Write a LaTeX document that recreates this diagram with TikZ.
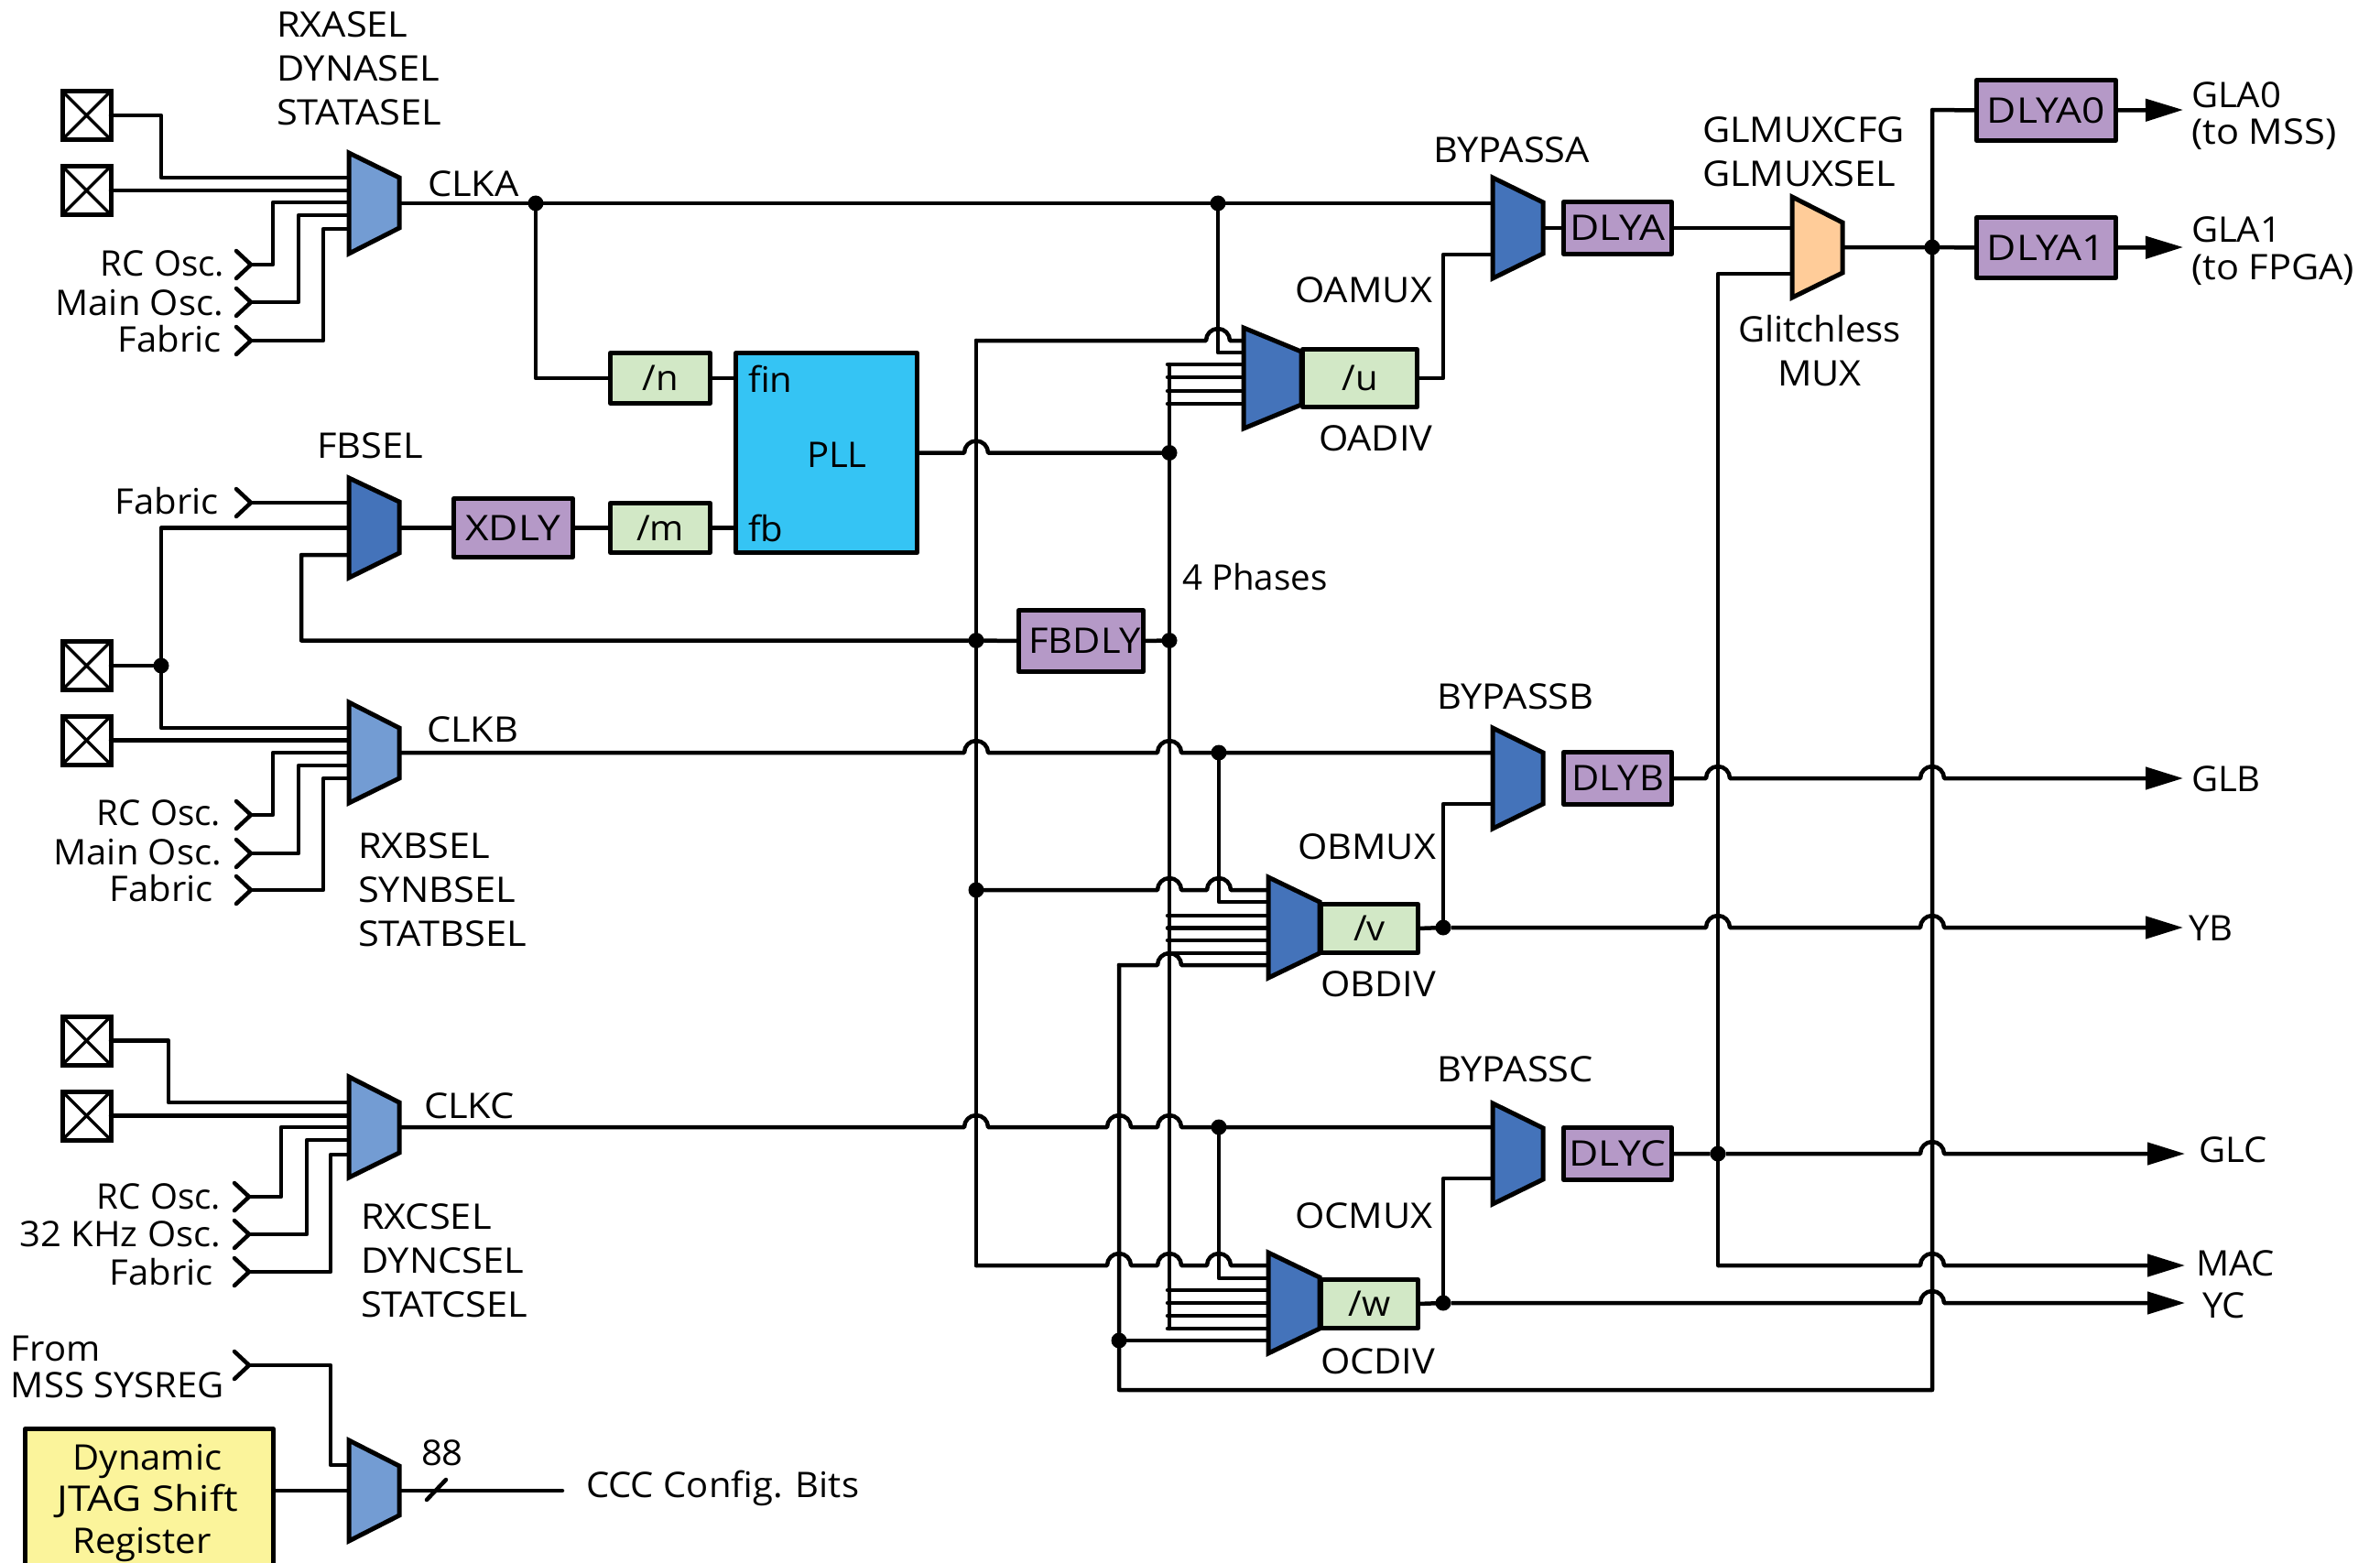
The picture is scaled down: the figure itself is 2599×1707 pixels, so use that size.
\documentclass[tikz,border=0pt]{standalone}
\usepackage{fontspec}
\setmainfont[FakeStretch=1.04]{Open Sans}
\newfontfamily\capsf[FakeStretch=1.08]{Open Sans}
\newfontfamily\boxf[FakeStretch=1.15]{Open Sans}
\newfontfamily\plainf{Open Sans}
\newcommand{\C}[1]{{\capsf #1}}
\newcommand{\B}[1]{{\boxf #1}}
\newcommand{\Pl}[1]{{\plainf #1}}
\usetikzlibrary{arrows.meta,backgrounds}
\definecolor{muxlight}{HTML}{739CD3}
\definecolor{muxdark}{HTML}{4473BA}
\definecolor{muxpeach}{HTML}{FFCC99}
\definecolor{dlypurple}{HTML}{B599C7}
\definecolor{divgreen}{HTML}{D2E8C6}
\definecolor{pllcyan}{HTML}{35C4F4}
\definecolor{regyellow}{HTML}{FBF49B}
\tikzset{
  wire/.style={draw=black,line width=4.5pt,line join=round,line cap=round},
  arrowwire/.style={wire,line cap=butt,-{Triangle[length=41pt,width=24pt]}},
  lbl/.style={inner sep=0pt,outer sep=0pt,yshift=-1.5pt,font=\fontsize{38.5pt}{46pt}\selectfont,anchor=base west},
  lblr/.style={lbl,anchor=base east},
  lblc/.style={lbl,anchor=base},
  dot/.style={circle,fill=black,inner sep=0pt,minimum size=17pt,outer sep=0pt},
  boxnode/.style={draw=black,line width=5pt,rectangle,inner sep=0pt,outer sep=0pt,line join=round,
     font=\fontsize{38.5pt}{46pt}\selectfont},
  padnode/.style={draw=black,line width=5pt,rectangle,inner sep=0pt,outer sep=0pt,minimum size=53pt,
     path picture={\draw[line width=3.5pt] (path picture bounding box.north west) -- (path picture bounding box.south east)
       (path picture bounding box.north east) -- (path picture bounding box.south west);}},
  muxanchor/.style={inner sep=0pt,outer sep=0pt,rectangle},
}
% name, style, x1, y1, x2, y2, text
\newcommand{\blk}[7]{\node[boxnode,#2,minimum width={(#5-#3-5)*1pt},minimum height={(#6-#4-5)*1pt}] (#1) at ({(#3+#5)/2},{(#4+#6)/2}) {#7};}
% name, colour, x1, x2, ytopL, ybotL, ytopR, ybotR
\newcommand{\muxblk}[8]{%
  \filldraw[fill=#2,draw=black,line width=5pt,line join=miter,miter limit=10] (#3,#5) -- (#4,#7) -- (#4,#8) -- (#3,#6) -- cycle;
  \node[muxanchor,minimum width={(#4-#3)*1pt},minimum height={(#6-#5)*1pt}] (#1) at ({(#3+#4)/2},{(#5+#6)/2}) {};}
% name, x, y : input chevron with its tip as a coordinate
\newcommand{\chev}[3]{\coordinate (#1) at (#2,#3);
  \draw[wire] ({#2-16},{#3-15}) -- (#1) -- ({#2-16},{#3+15});}
\newcommand{\hop}[2]{-- ({#1-13},#2) arc[start angle=180,end angle=0,radius=13pt] }
\begin{document}
\begin{tikzpicture}[x=1pt,y=-1pt]
\useasboundingbox (0,0) rectangle (2599,1707);
\clip (0,0) rectangle (2599,1707);

% ---------- pads
\node[padnode] (pa1) at (94.5,126) {};
\node[padnode] (pa2) at (94.5,208) {};
\node[padnode] (pb1) at (94.5,727) {};
\node[padnode] (pb2) at (94.5,808.5) {};
\node[padnode] (pc1) at (94.5,1136.5) {};
\node[padnode] (pc2) at (94.5,1218.5) {};

% ---------- muxes
\muxblk{muxA}{muxlight}{381}{436}{167}{277}{194}{249}
\muxblk{muxFB}{muxdark}{381}{436}{522}{631}{548}{604}
\muxblk{muxB}{muxlight}{381}{436}{767}{877}{795}{850}
\muxblk{muxC}{muxlight}{381}{436}{1176}{1286}{1204}{1259}
\muxblk{muxD}{muxlight}{381}{436}{1573}{1683}{1601}{1655}
\muxblk{muxOA}{muxdark}{1358}{1421}{358}{468}{384}{442}
\muxblk{muxOB}{muxdark}{1385}{1441}{958}{1068}{985}{1041}
\muxblk{muxOC}{muxdark}{1385}{1441}{1368}{1478}{1395}{1451}
\muxblk{muxBA}{muxdark}{1630}{1685}{194}{304}{221}{277}
\muxblk{muxBB}{muxdark}{1630}{1685}{795}{905}{822}{878}
\muxblk{muxBC}{muxdark}{1630}{1685}{1205}{1315}{1232}{1288}
\muxblk{muxG}{muxpeach}{1957}{2012}{215}{325}{243}{298}

% ---------- boxes
\blk{n}{fill=divgreen}{664}{383}{778}{443}{/n\hspace{8pt}}
\blk{m}{fill=divgreen}{664}{547}{778}{606}{/m\hspace{8pt}}
\blk{xdly}{fill=dlypurple}{493}{542}{628}{611}{\B{XDLY}}
\blk{pll}{fill=pllcyan}{801}{383}{1004}{606}{}
\blk{fbdly}{fill=dlypurple}{1110}{664}{1251}{736}{\hspace{8pt}\C{FBDLY}}
\blk{u}{fill=divgreen}{1420}{379}{1550}{447}{/u\hspace{8pt}}
\blk{v}{fill=divgreen}{1440}{985}{1551}{1043}{/v\hspace{8pt}}
\blk{w}{fill=divgreen}{1440}{1395}{1551}{1453}{/w\hspace{8pt}}
\blk{dlya}{fill=dlypurple}{1705}{218}{1828}{280}{\B{DLYA}}
\blk{dlyb}{fill=dlypurple}{1705}{819}{1828}{881}{\C{DLYB}}
\blk{dlyc}{fill=dlypurple}{1705}{1229}{1828}{1291}{\B{DLYC}}
\blk{dlyaz}{fill=dlypurple}{2156}{85}{2313}{156}{\B{DLYA0}}
\blk{dlyao}{fill=dlypurple}{2156}{235}{2313}{306}{\B{DLYA1}}
\blk{jtag}{fill=regyellow}{25}{1558}{301}{1740}{}

% ---------- dots
\node[dot] (dA) at (585,222) {};
\node[dot] (dOA) at (1330,222) {};
\node[dot] (dPh) at (1277,494.5) {};
\node[dot] (dFBl) at (1066,699.5) {};
\node[dot] (dFBr) at (1277,699.5) {};
\node[dot] (dP3) at (176,727) {};
\node[dot] (dVb) at (1066,972) {};
\node[dot] (dOB) at (1331,822) {};
\node[dot] (dOC) at (1331,1231) {};
\node[dot] (dV) at (1576,1013) {};
\node[dot] (dW) at (1576,1423) {};
\node[dot] (dY) at (1222,1464) {};
\node[dot] (dC) at (1876,1260) {};
\node[dot] (dG) at (2110,270) {};

% ---------- chevrons
\chev{tRa}{274}{289}
\chev{tMa}{274}{330}
\chev{tFa}{274}{372}
\chev{tFf}{274}{549}
\chev{tRb}{274}{890}
\chev{tMb}{274}{932}
\chev{tFb}{274}{972}
\chev{tRc}{272}{1307}
\chev{tMc}{272}{1348}
\chev{tFc}{272}{1389}
\chev{tS}{272}{1491}

% ---------- free ends
\coordinate (cCfg) at (614,1628);
\coordinate (tGLA0) at (2384,120);
\coordinate (tGLA1) at (2384,270);
\coordinate (tGLB) at (2384,850);
\coordinate (tYB) at (2384,1013);
\coordinate (tGLC) at (2386,1260);
\coordinate (tMAC) at (2386,1382);
\coordinate (tYC) at (2386,1423);

\begin{scope}[on background layer]
% CLKA
\draw[wire] (pa1.east) -| (176,194) -- (muxA.west |- 0,194);
\draw[wire] (pa2.east) -- (muxA.west |- 0,208);
\draw[wire] (tRa) -| (298,221) -- (muxA.west |- 0,221);
\draw[wire] (tMa) -| (326,235) -- (muxA.west |- 0,235);
\draw[wire] (tFa) -| (353,250) -- (muxA.west |- 0,250);
\draw[wire] (muxA.east) -- (dA) -- (dOA) -- (muxBA.west |- 0,222);
\draw[wire] (dA) |- (n.west);
\draw[wire] (n.east) -- (pll.west |- n.east);
% feedback
\draw[wire] (tFf) -- (muxFB.west |- 0,549);
\draw[wire] (muxFB.west |- 0,576.5) -- (176,576.5) -- (dP3) |- (muxB.west |- 0,795);
\draw[wire] (pb1.east) -- (dP3);
\draw[wire] (muxFB.west |- 0,606) -| (329,699.5) -- (dFBl) -- (fbdly.west);
\draw[wire] (fbdly.east) -- (dFBr);
\draw[wire] (muxFB.east) -- (xdly.west);
\draw[wire] (xdly.east) -- (m.west);
\draw[wire] (m.east) -- (pll.west |- m.east);
% CLKB
\draw[wire] (pb2.east) -- (muxB.west |- pb2.east);
\draw[wire] (tRb) -| (298,822) -- (muxB.west |- 0,822);
\draw[wire] (tMb) -| (326,836) -- (muxB.west |- 0,836);
\draw[wire] (tFb) -| (353,850) -- (muxB.west |- 0,850);
\draw[wire] (muxB.east) \hop{1066}{822} \hop{1277}{822} -- (dOB) -- (muxBB.west |- 0,822);
\draw[wire] (dOB) |- (muxOB.west |- 0,985);
% CLKC
\draw[wire] (pc1.east) -| (184,1204) -- (muxC.west |- 0,1204);
\draw[wire] (pc2.east) -- (muxC.west |- pc2.east);
\draw[wire] (tRc) -| (307,1231) -- (muxC.west |- 0,1231);
\draw[wire] (tMc) -| (335,1245) -- (muxC.west |- 0,1245);
\draw[wire] (tFc) -| (361,1261) -- (muxC.west |- 0,1261);
\draw[wire] (muxC.east) \hop{1066}{1231} \hop{1222}{1231} \hop{1277}{1231} -- (dOC) -- (muxBC.west |- 0,1231);
\draw[wire] (dOC) |- (muxOC.west |- 0,1396);
% config mux
\draw[wire] (tS) -| (361,1600) -- (muxD.west |- 0,1600);
\draw[wire] (jtag.east |- 0,1628) -- (muxD.west |- 0,1628);
\draw[wire] (muxD.east) -- (cCfg);
% PLL output and phases
\draw[wire] (pll.east) \hop{1066}{494.5} -- (dPh);
\draw[wire] (1277,398) -- (dPh) -- (dFBr) -- (1277,1451);
\foreach \yy in {398,412,427,441} {\draw[wire] (1275,\yy) -- (muxOA.west |- 0,\yy);}
\foreach \yy in {1000,1013.5,1027,1041} {\draw[wire] (1275,\yy) -- (muxOB.west |- 0,\yy);}
\foreach \yy in {1409,1423,1437,1451} {\draw[wire] (1275,\yy) -- (muxOC.west |- 0,\yy);}
% long vertical from the PLL feedback bus
\draw[wire] (dOA) |- (muxOA.west |- 0,385);
\draw[wire] (1066,372) \hop{1330}{372} -- (muxOA.west |- 0,372);
\draw[wire] (1066,372) -- (dFBl) -- (dVb) -- (1066,1382);
\draw[wire] (dVb) \hop{1277}{972} \hop{1331}{972} -- (muxOB.west |- 0,972);
\draw[wire] (1066,1382) \hop{1222}{1382} \hop{1277}{1382} \hop{1331}{1382} -- (muxOC.west |- 0,1382);
% GL return bus
\draw[wire] (1222,1054) \hop{1277}{1054} -- (muxOB.west |- 0,1054);
\draw[wire] (1222,1054) -- (dY) -- (1222,1518) -- (2110,1518) -- (dG) -- (2110,120) -- (dlyaz.west);
\draw[wire] (dY) -- (muxOC.west |- dY);
% outputs of the dividers
\draw[wire] (muxOA.east) -- (u.west);
\draw[wire] (u.east) -- (1576,413) |- (muxBA.west |- 0,278);
\draw[wire] (v.east) -- (dV);
\draw[wire] (dV) |- (muxBB.west |- 0,878);
\draw[wire] (w.east) -- (dW);
\draw[wire] (dW) |- (muxBC.west |- 0,1287);
\draw[wire] (muxBA.east) -- (dlya.west);
\draw[wire] (dlya.east) -- (muxG.west |- dlya.east);
\draw[wire] (muxG.west |- 0,299) -- (1876,299) -- (dC) -- (1876,1382);
\draw[wire] (muxG.east) -- (dG) -- (dlyao.west);
\draw[arrowwire] (dlyaz.east) -- (tGLA0);
\draw[arrowwire] (dlyao.east) -- (tGLA1);
\draw[arrowwire] (dlyb.east) \hop{1876}{850} \hop{2110}{850} -- (tGLB);
\draw[arrowwire] (dV) \hop{1876}{1013} \hop{2110}{1013} -- (tYB);
\draw[arrowwire] (dlyc.east) -- (dC) \hop{2110}{1260} -- (tGLC);
\draw[arrowwire] (1876,1382) \hop{2110}{1382} -- (tMAC);
\draw[arrowwire] (dW) \hop{2110}{1423} -- (tYC);
\end{scope}
% bus-width slash
\draw[wire] (466,1638) -- (487,1616);

% ---------- labels
\node[lbl] (t1) at (302,39) {\C{RXASEL}};
\node[lbl] (t2) at (302,87) {\C{DYNASEL}};
\node[lbl] (t3) at (302,135) {\C{STATASEL}};
\node[lbl] (t4) at (467,213) {\C{CLKA}};
\node[lblr] (t5) at (245,300) {\Pl{RC Osc.}};
\node[lblr] (t6) at (244,343) {Main Osc.};
\node[lblr] (t7) at (242,383) {Fabric};
\node[lbl] (t8) at (346,499) {\C{FBSEL}};
\node[lblr] (t9) at (239,560) {Fabric};
\node[lbl] (t10) at (817,427) {fin};
\node[lbl] (t11) at (817,590) {fb};
\node[lbl] (t12) at (881,509) {PLL};
\node[lbl] (t13) at (466,809) {\C{CLKB}};
\node[lblr] (t14) at (241,900) {\Pl{RC Osc.}};
\node[lblr] (t15) at (242,943) {Main Osc.};
\node[lblr] (t16) at (233,983) {Fabric};
\node[lbl] (t17) at (391,936) {\C{RXBSEL}};
\node[lbl] (t18) at (391,984) {\C{SYNBSEL}};
\node[lbl] (t19) at (391,1032) {\C{STATBSEL}};
\node[lbl] (t20) at (463,1220) {\C{CLKC}};
\node[lblr] (t21) at (241,1319) {\Pl{RC Osc.}};
\node[lblr] (t22) at (241,1360) {32 KHz Osc.};
\node[lblr] (t23) at (233,1402) {Fabric};
\node[lbl] (t24) at (394,1341) {\C{RXCSEL}};
\node[lbl] (t25) at (394,1389) {\C{DYNCSEL}};
\node[lbl] (t26) at (394,1437) {\C{STATCSEL}};
\node[lbl] (t27) at (12,1485) {From};
\node[lbl] (t28) at (12,1525) {MSS SYSREG};
\node[lblc] (t29) at (161,1604) {Dynamic};
\node[lblc] (t30) at (161,1649) {\B{JTAG Shift}};
\node[lblc] (t31) at (155,1695) {Register};
\node[lbl] (t32) at (460,1599) {88};
\node[lbl] (t33) at (640,1634) {CCC Config. Bits};
\node[lbl] (t34) at (1565,176) {\C{BYPASSA}};
\node[lbl] (t35) at (1569,773) {\C{BYPASSB}};
\node[lbl] (t36) at (1569,1180) {\C{BYPASSC}};
\node[lblr] (t37) at (1564,329) {\C{OAMUX}};
\node[lbl] (t38) at (1440,491) {\C{OADIV}};
\node[lbl] (t39) at (1291,643) {\Pl{4 Phases}};
\node[lbl] (t40) at (1417,937) {\C{OBMUX}};
\node[lbl] (t41) at (1442,1087) {\C{OBDIV}};
\node[lbl] (t42) at (1414,1340) {\C{OCMUX}};
\node[lbl] (t43) at (1442,1499) {\C{OCDIV}};
\node[lbl] (t44) at (1859,154) {\C{GLMUXCFG}};
\node[lbl] (t45) at (1859,202) {\C{GLMUXSEL}};
\node[lblc] (t46) at (1987,372) {Glitchless};
\node[lblc] (t47) at (1987,420) {\C{MUX}};
\node[lbl] (t48) at (2393,116) {GLA0};
\node[lbl] (t49) at (2393,156) {\C{(to MSS)}};
\node[lbl] (t50) at (2393,263) {GLA1};
\node[lbl] (t51) at (2393,304) {\C{(to FPGA)}};
\node[lbl] (t52) at (2393,863) {GLB};
\node[lbl] (t53) at (2390,1026) {YB};
\node[lbl] (t54) at (2401,1268) {GLC};
\node[lbl] (t55) at (2398,1392) {MAC};
\node[lbl] (t56) at (2405,1438) {YC};
\end{tikzpicture}
\end{document}
